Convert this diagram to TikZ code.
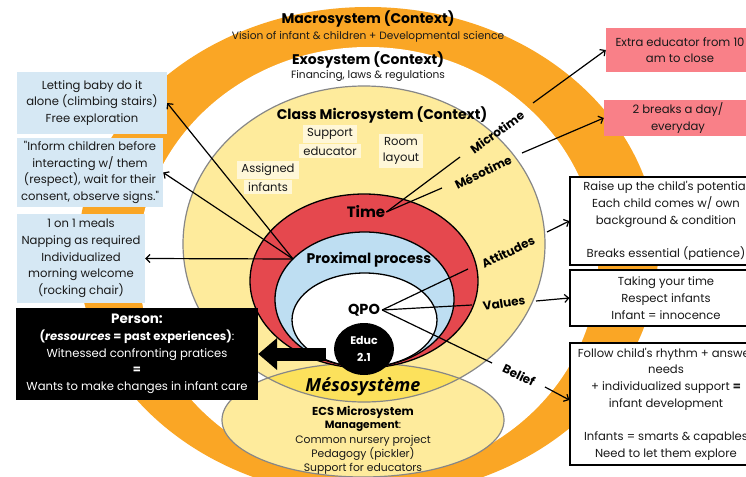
\documentclass[tikz,border=0pt]{standalone}
\usepackage{fontspec}
\setmainfont{Poppins}[Ligatures=TeXOff]
\newfontfamily\osans{Open Sans}
\usetikzlibrary{shapes.geometric,arrows.meta,calc}
\definecolor{orangeC}{RGB}{250,166,37}
\definecolor{yellowC}{RGB}{254,235,156}
\definecolor{lensC}{RGB}{252,225,92}
\definecolor{redC}{RGB}{229,72,78}
\definecolor{blueC}{RGB}{190,222,242}
\definecolor{boxblue}{RGB}{214,232,244}
\definecolor{boxred}{RGB}{249,128,136}
\definecolor{creamC}{RGB}{255,247,216}
\definecolor{greyC}{RGB}{135,135,135}
\definecolor{textC}{RGB}{25,25,25}
\begin{document}
\begin{tikzpicture}[x=1pt,y=-1pt,
  body/.style={font=\fontsize{11.6}{16.7}\selectfont, text=textC, align=center, inner sep=0pt},
  small/.style={font=\fontsize{10.6}{12}\selectfont, text=textC, inner sep=0pt},
  titlef/.style={font=\fontsize{14}{16}\selectfont\bfseries, text=black, inner sep=0pt},
  lbl/.style={font=\fontsize{12}{14}\selectfont\bfseries, text=black, inner sep=0pt},
  ring/.style={font=\fontsize{14}{16}\selectfont\bfseries, text=black, inner sep=0pt},
  cream/.style={body, fill=creamC, inner xsep=4pt, inner ysep=3pt},
  bluebox/.style={body, fill=boxblue},
  redbox/.style={body, fill=boxred},
  whitebox/.style={body, fill=white, draw=black, line width=1.2pt},
  ln/.style={draw=black, line width=1.2pt},
  arr/.style={ln, -{Straight Barb[length=4pt,width=8pt]}},
  blockarrow/.style={draw=black, line width=13pt, -{Triangle[length=19pt,width=31pt]}}
]
\clip (0,0) rectangle (746,476);
\fill[white] (0,0) rectangle (746,476);

% systems
\fill[orangeC] (368,252) ellipse [x radius=290, y radius=245];
\fill[white] (368,262) ellipse [x radius=230, y radius=215];
\fill[yellowC] (364,244) ellipse [x radius=181, y radius=158];
\fill[yellowC] (363,420) ellipse [x radius=141, y radius=57];
\begin{scope}
  \clip (364,244) ellipse [x radius=181, y radius=158];
  \fill[lensC] (363,420) ellipse [x radius=141, y radius=57];
\end{scope}
\draw[greyC, line width=1.2pt] (364,244) ellipse [x radius=181, y radius=158];
\draw[greyC, line width=1.2pt] (363,420) ellipse [x radius=141, y radius=57];

\filldraw[fill=redC, draw=black, line width=1.3pt] (364,281) ellipse [x radius=114, y radius=87];
\filldraw[fill=blueC, draw=black, line width=1.3pt] (364.5,299.5) ellipse [x radius=89.5, y radius=67.5];
\filldraw[fill=white, draw=black, line width=1.3pt] (364.5,320) ellipse [x radius=72.5, y radius=47];

% titles
\node[titlef] (macro) at (368,19) {Macrosystem (Context)};
\node[small] (vision) at (368,37) {Vision of infant \& children + Developmental science};
\node[titlef] (exo) at (368,60) {Exosystem (Context)};
\node[small] (fin) at (368,76) {Financing, laws \& regulations};
\node[titlef] (classt) at (382,115) {Class Microsystem (Context)};

\node[cream] (sup1) at (330,134) {Support};
\node[cream] (sup2) at (330,151) {educator};
\node[cream] (room) at (401,151) {Room\\layout};
\node[cream] (asg1) at (268,170) {Assigned};
\node[cream] (asg2) at (268,187) {infants};

\node[ring, font=\fontsize{15}{17}\selectfont\bfseries] (time) at (366,212) {Time};
\node[ring] (pp) at (369,260) {Proximal process};
\node[ring, font=\fontsize{14.5}{17}\selectfont\bfseries] (qpo) at (364,310) {QPO};
\node[ellipse, fill=black, minimum width=60, minimum height=52, inner sep=0pt, text=white, align=center,
      font=\fontsize{11}{17}\selectfont\bfseries] (educ) at (364,349) {Educ\\2.1};

\node[inner sep=0pt, font=\fontsize{18}{20}\selectfont\osans\bfseries\itshape] (meso) at (363,387) {Mésosystème};
\node[inner sep=0pt, font=\fontsize{11.5}{13}\selectfont\bfseries] (ecs) at (363,412) {ECS Microsystem};
\node[inner sep=0pt, font=\fontsize{10.6}{13}\selectfont] (mgmt) at (363,426) {\textbf{Management}:};
\node[body, font=\fontsize{10.8}{14}\selectfont] (ecsl) at (363,455) {Common nursery project\\Pedagogy (pickler)\\Support for educators};

% rotated labels
\node[lbl, rotate=36] (micro) at (497,132) {Microtime};
\node[lbl, rotate=26] (mesot) at (483,172) {Mésotime};
\node[lbl, rotate=26] (att) at (508,252) {Attitudes};
\node[lbl, rotate=9] (val) at (504,303) {Values};
\node[lbl, rotate=-26] (bel) at (519,375) {Belief};

% boxes
\node[redbox, minimum width=148, minimum height=44] (rb1) at (680,50) {Extra educator from 10\\am to close};
\node[redbox, minimum width=148, minimum height=36] (rb2) at (678,118) {2 breaks a day/\\everyday};
\node[whitebox, minimum width=192, minimum height=88] (wb1) at (666,221) {Raise up the child's potential\\Each child comes w/ own\\background \& condition\\[16.5pt]Breaks essential (patience)};
\node[whitebox, minimum width=192, minimum height=56] (wb2) at (666,298) {Taking your time\\Respect infants\\Infant = innocence};
\node[whitebox, minimum width=192, minimum height=122] (wb3) at (666,404) {Follow child's rhythm + answer\\needs\\+ individualized support \textbf{=}\\infant development\\[16.5pt]Infants = smarts \& capables\\Need to let them explore};

\node[bluebox, minimum width=150, minimum height=62] (b1) at (92,103) {Letting baby do it\\alone (climbing stairs)\\Free exploration};
\node[bluebox, minimum width=146, minimum height=69] (b2) at (90,172.5) {"Inform children before\\interacting w/ them\\(respect), wait for their\\consent, observe signs."};
\node[bluebox, minimum width=128, minimum height=89] (b3) at (81,258.5) {1 on 1 meals\\Napping as required\\Individualized\\morning welcome\\(rocking chair)};
\node[body, fill=black, text=white, minimum width=242, minimum height=92] (person) at (137,354)
  {{\fontsize{13.5}{16.5}\selectfont\bfseries Person:}\\\textbf{(\textit{ressources} = past experiences)}:\\Witnessed confronting pratices\\\textbf{=}\\Wants to make changes in infant care};

% connectors
\coordinate (tmic) at (460,157);
\coordinate (tmes) at (442,188);
\draw[ln] ([xshift=1pt]time.east) -- (tmic);
\draw[ln] ([xshift=1pt]time.east) -- (tmes);

\coordinate (qa) at (468,269);
\coordinate (qv) at (472,305);
\coordinate (qb) at (492,363);
\draw[ln] ([xshift=2pt]qpo.east) -- (qa);
\draw[ln] ([xshift=2pt]qpo.east) -- (qv);
\draw[ln] ([xshift=2pt]qpo.east) -- (qb);

\coordinate (ma) at (533,103);
\coordinate (msa) at (522,153);
\coordinate (aa) at (547,232);
\coordinate (va) at (536,301);
\coordinate (ba) at (545,387);
\draw[arr] (ma) -- (rb1.west);
\draw[arr] (msa) -- (rb2.west);
\draw[arr] (aa) -- (wb1.west);
\draw[arr] (va) -- (wb2.west);
\draw[arr] (ba) -- ([yshift=4pt]wb3.west);

\coordinate (ppl) at (293,259);
\draw[arr] (ppl) -- (b1.east);
\draw[arr] (ppl) -- (b2.east);
\draw[arr] (ppl) -- (b3.east);

\draw[blockarrow] ($(educ.west |- person.east)+(-8,0)$) -- (person.east);
\end{tikzpicture}
\end{document}
